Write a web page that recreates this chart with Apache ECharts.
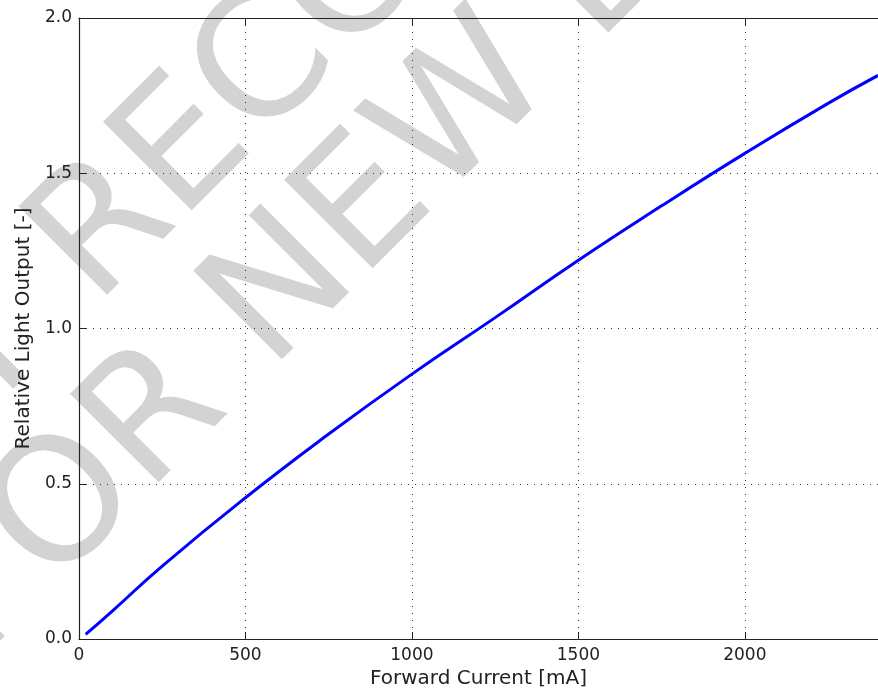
<!DOCTYPE html>
<html>
<head>
<meta charset="utf-8">
<script src="https://cdn.jsdelivr.net/npm/echarts@6/dist/echarts.min.js"></script>
<style>
    html, body { margin: 0; padding: 0; background: #fff; }
    #main { width: 878px; height: 694px; }
</style>
</head>
<body>
<div id="main"></div>
<script>
    // forward current [mA] vs relative light output
    var current = [20, 100, 250, 500, 750, 1000, 1250, 1500, 1750, 2000, 2250, 2400];
    var lightOutput = [0.015, 0.09, 0.235, 0.455, 0.66, 0.853, 1.035, 1.22, 1.395, 1.564, 1.725, 1.815];
    var xTicks = [0, 500, 1000, 1500, 2000];
    var yTicks = [0.0, 0.5, 1.0, 1.5, 2.0];
    var stampLines = ['NOT RECOMMENDED', 'FOR NEW DESIGN'];

    var chartDom = document.getElementById('main');
    var myChart = echarts.init(chartDom);
    var font = 'DejaVu Sans';

    var points = current.map(function (c, i) { return [c, lightOutput[i]]; });

    // big grey stamp text, rotated 45 degrees behind the plot
    var stamp = function (text, x, y) {
        return {
            type: 'text',
            x: x,
            y: y,
            rotation: Math.PI / 4,
            silent: true,
            z: -10,
            style: {
                text: text,
                x: 0,
                y: -59.5,
                font: '172px "DejaVu Sans"',
                fill: '#d3d3d3',
                textAlign: 'left',
                textVerticalAlign: 'middle'
            }
        };
    };

    var option = {
        animation: false,
        backgroundColor: '#fff',
        graphic: {
            z: -10,
            elements: [
                stamp(stampLines[0], -194, 617),
                stamp(stampLines[1], -8.5, 670.5)
            ]
        },
        grid: {
            left: 79,
            top: 18,
            right: -6,
            bottom: 53
        },
        xAxis: [{
            type: 'value',
            min: 0,
            max: 2400,
            interval: 500,
            name: 'Forward Current [mA]',
            nameLocation: 'middle',
            nameGap: 30,
            nameTextStyle: { fontFamily: font, fontSize: 20, color: '#222' },
            axisLine: { show: true, lineStyle: { color: '#222', width: 1.2 } },
            axisTick: { show: true, inside: true, length: 7, lineStyle: { color: '#222' } },
            axisLabel: {
                fontFamily: font, fontSize: 17, color: '#222', margin: 8,
                showMaxLabel: false,
                formatter: function (v) { return xTicks.indexOf(v) >= 0 ? String(v) : ''; }
            },
            splitLine: { show: true, lineStyle: { color: '#333', width: 1, type: [1, 6] } }
        }, {
            type: 'value',
            position: 'top',
            min: 0,
            max: 2400,
            interval: 500,
            axisLine: { show: true, lineStyle: { color: '#222', width: 1.2 } },
            axisTick: { show: true, inside: true, length: 7, lineStyle: { color: '#222' } },
            axisLabel: { show: false },
            splitLine: { show: false }
        }],
        yAxis: {
            type: 'value',
            min: 0,
            max: 2,
            interval: 0.5,
            name: 'Relative Light Output [-]',
            nameLocation: 'middle',
            nameGap: 44,
            nameTextStyle: { fontFamily: font, fontSize: 20, color: '#222' },
            axisLine: { show: true, lineStyle: { color: '#222', width: 1.2 } },
            axisTick: { show: true, inside: true, length: 7, lineStyle: { color: '#222' } },
            axisLabel: {
                fontFamily: font, fontSize: 17, color: '#222', margin: 7,
                formatter: function (v) { return v.toFixed(1); }
            },
            splitLine: { show: true, lineStyle: { color: '#333', width: 1, type: [1, 6] } }
        },
        series: [{
            type: 'line',
            data: points,
            smooth: true,
            showSymbol: false,
            lineStyle: { color: '#0000ff', width: 3 },
            z: 5
        }]
    };

    option && myChart.setOption(option);
</script>
</body>
</html>
